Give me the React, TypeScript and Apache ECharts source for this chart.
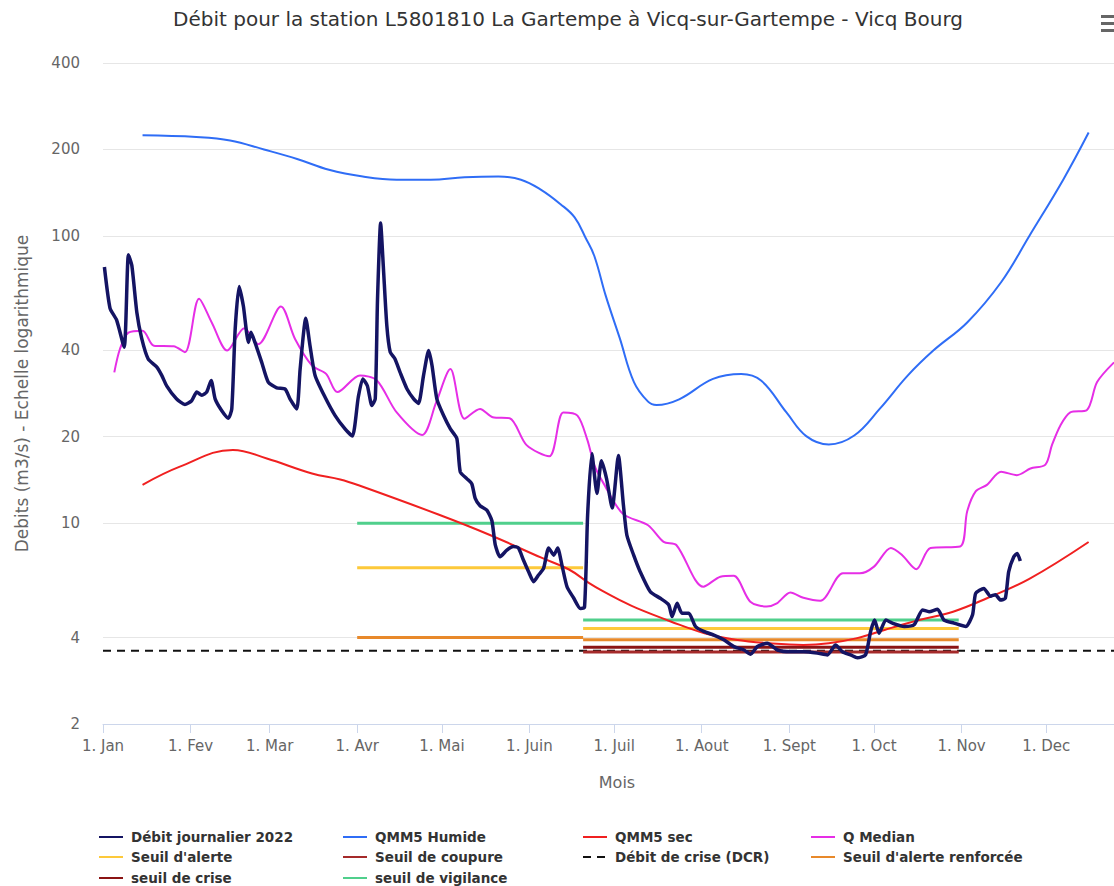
import React, { useEffect, useRef } from "react";
import * as echarts from "echarts";

// ---- axes ----
const monthDays = [0, 31, 59, 90, 120, 151, 181, 212, 243, 273, 304, 334];
const monthLabels = ["1. Jan", "1. Fev", "1. Mar", "1. Avr", "1. Mai", "1. Juin", "1. Juil", "1. Aout", "1. Sept", "1. Oct", "1. Nov", "1. Dec"];
const yTicks = [2, 4, 10, 20, 40, 100, 200, 400];

// ---- series (x = day of year 2022, 0 = 1 Jan) ----
const debitJournalier2022: [number, number][] = [
  [0.5, 78], [2.5, 56], [4.8, 51], [7.5, 41], [9, 86], [10.2, 79], [12, 54], [13.7, 44], [16, 37.3], [19, 35],
  [20.8, 32.7], [22.6, 30], [26, 27.1], [29, 25.9], [31.4, 26.7], [33.2, 28.6], [35, 27.9], [36.7, 28.6], [38.3, 31.4], [39.7, 27.1],
  [42, 24.7], [44.4, 23.2], [45.6, 25], [46.8, 47.4], [48.2, 66.7], [49.7, 57], [51.5, 42.6], [52.4, 46.2], [53.8, 42.6], [56.2, 36.3],
  [58.5, 31], [61.5, 29.6], [64.5, 29.3], [66.2, 27.1], [68.6, 25], [69.8, 34.4], [71.8, 51.7], [73.3, 41.5], [75.1, 32.7], [78.6, 27.5],
  [82.2, 23.7], [85.7, 21.3], [88.3, 20.1], [90.4, 27.5], [92, 31.8], [93.6, 30.1], [95.2, 25.7], [96.4, 27.1], [97.2, 60], [98.3, 111],
  [99.3, 77], [100.5, 48.7], [101.7, 39.4], [103.4, 37.3], [105.2, 33.5], [107.6, 29.4], [110, 27.1], [111.7, 26.1], [113.5, 32.7], [115.3, 39.9],
  [116.5, 35.4], [118.2, 27.1], [120.6, 23.7], [123, 21.3], [125.3, 19.7], [126.5, 15.1], [128.8, 14.3], [130.6, 13.7], [131.8, 12.2], [133.5, 11.5],
  [135.9, 11.1], [137.7, 10.2], [138.9, 8.4], [140.6, 7.64], [143, 8.06], [145.3, 8.3], [147.1, 8.2], [148.9, 7.43], [150.7, 6.78], [152.5, 6.26],
  [154.2, 6.6], [156, 6.96], [157.8, 8.2], [159.6, 7.74], [161, 8.2], [162.5, 7.15], [164.3, 6.01], [166.7, 5.48], [169, 5.05], [170.5, 5.1],
  [171.6, 10.7], [173.1, 17.5], [174.9, 12.7], [176.5, 16.5], [178.3, 14.3], [180.3, 11.3], [182.5, 17.2], [184.3, 11.5], [185.5, 9.08], [187.9, 7.74],
  [190.2, 6.78], [193.8, 5.77], [197.3, 5.48], [200.3, 5.2], [201.5, 4.73], [203.3, 5.26], [205, 4.86], [207.4, 4.86], [209.8, 4.37], [212.7, 4.2],
  [216.3, 4.08], [219.8, 3.93], [223.4, 3.72], [227, 3.62], [229.3, 3.5], [231.7, 3.72], [235.2, 3.82], [238.8, 3.62], [243.5, 3.57], [248.2, 3.57],
  [252.9, 3.53], [256.5, 3.48], [259.4, 3.77], [261.8, 3.57], [264.7, 3.48], [267.1, 3.4], [270, 3.48], [271.8, 4.2], [273.2, 4.6], [274.8, 4.14],
  [277.2, 4.6], [279.5, 4.49], [283.7, 4.37], [287.2, 4.43], [290.2, 4.99], [292.5, 4.92], [295.5, 5.02], [297.8, 4.6], [301.3, 4.49], [305.5, 4.37],
  [307.9, 4.8], [309, 5.7], [311.9, 5.93], [314.2, 5.57], [316, 5.64], [317.8, 5.4], [319.5, 5.48], [320.7, 6.78], [322.5, 7.64], [323.7, 7.85],
  [324.8, 7.38],
];

const qmm5Humide: [number, number][] = [
  [14, 224], [33, 221], [45, 215], [57, 200], [69, 185], [80, 170], [92, 161], [104, 157], [116, 157], [128, 160],
  [140, 161], [148, 157], [155, 145], [162, 129], [167, 116], [171, 98], [174, 85], [178, 62], [183, 44], [188, 31],
  [193, 26.5], [196, 25.8], [204, 27], [216, 31.8], [226, 33.1], [233, 31.4], [242, 24.3], [249, 20.1], [257, 18.8], [266, 20.2],
  [275, 25], [285, 32.7], [294, 39.9], [306, 50], [318, 69], [328, 100], [340, 157], [349, 229],
];

const qmm5Sec: [number, number][] = [
  [14, 13.6], [27, 15.7], [46, 18], [58, 16.8], [74, 14.9], [84, 14.2], [91, 13.5], [119, 10.7], [137, 9.1], [155, 7.6],
  [165, 6.9], [172, 6.2], [177, 5.8], [183, 5.4], [189, 5.06], [201, 4.55], [213, 4.14], [224, 3.93], [236, 3.82], [248, 3.77],
  [257, 3.82], [267, 3.98], [277, 4.26], [289, 4.6], [301, 4.92], [313, 5.48], [328, 6.4], [349, 8.6],
];

const qMedian: [number, number][] = [
  [4, 33.5], [6, 40.4], [9, 46.1], [14, 46.8], [18, 41.5], [25, 41.3], [29, 39.4], [34, 60.5], [38.5, 50], [44, 39.9],
  [50, 47.7], [55, 42], [63, 56.8], [68, 43.8], [74, 35.4], [79, 33.1], [83, 28.6], [91, 32.7], [97, 31.4], [104, 24.3],
  [113, 20.3], [118, 26.4], [123, 34.4], [128, 23.1], [133.5, 25], [138, 23.4], [144, 23.2], [150, 18.7], [158, 17.1], [163, 24.3],
  [168, 23.7], [171.5, 19.5], [174, 15.9], [177, 13.9], [184, 10.8], [193, 9.84], [198.5, 8.61], [203, 8.4], [212.6, 6.01], [218.6, 6.51],
  [223.3, 6.56], [229.2, 5.33], [235, 5.13], [238.6, 5.26], [243.4, 5.74], [248, 5.5], [254, 5.37], [262, 6.69], [268, 6.69], [273, 7.06],
  [279, 8.2], [283, 7.74], [288, 6.92], [293, 8.2], [303.5, 8.3], [306, 11], [309, 12.9], [313, 13.6], [318, 15.1], [323.6, 14.7],
  [328.4, 15.5], [333.7, 16], [336, 18.7], [339, 21.9], [342.5, 24.3], [348.4, 24.8], [352, 31], [358, 36.3],
];

// thresholds: period 1 (1 Apr - 20 Jun), period 2 (20 Jun - 31 Oct); '-' breaks the line
const seuilVigilance: any[] = [[90, 10], [170, 10], [170, "-"], [170, 4.6], [303, 4.6]];
const seuilAlerte: any[] = [[90, 7], [170, 7], [170, "-"], [170, 4.3], [303, 4.3]];
const seuilAlerteRenforcee: any[] = [[90, 4], [170, 4], [170, "-"], [170, 3.93], [303, 3.93]];
const seuilCrise: any[] = [[170, 3.7], [303, 3.7]];
const seuilCoupure: any[] = [[170, 3.56], [303, 3.56]];
const debitCrise: any[] = [[0, 3.6], [364, 3.6]];

const FONT = "DejaVu Sans";

export default function App() {
  const ref = useRef<HTMLDivElement>(null);
  useEffect(() => {
    if (!ref.current) return;
    const chart = echarts.init(ref.current, undefined, { renderer: "svg" });

    const line = (name: string, data: any[], color: string, width: number, extra: any = {}) => ({
      name,
      type: "line",
      data,
      symbol: "none",
      showSymbol: false,
      connectNulls: false,
      lineStyle: { color, width, ...(extra.lineStyle || {}) },
      itemStyle: { color },
      emphasis: { disabled: true },
      z: extra.z ?? 2,
      smooth: extra.smooth ?? false,
      clip: true,
    });

    const legendPos: [string, number, number][] = [
      ["Débit journalier 2022", 98, 830],
      ["QMM5 Humide", 342, 830],
      ["QMM5 sec", 582, 830],
      ["Q Median", 810, 830],
      ["Seuil d'alerte", 98, 850],
      ["Seuil de coupure", 342, 850],
      ["Débit de crise (DCR)", 582, 850],
      ["Seuil d'alerte renforcée", 810, 850],
      ["seuil de crise", 98, 871],
      ["seuil de vigilance", 342, 871],
    ];

    chart.setOption({
      animation: false,
      backgroundColor: "#ffffff",
      title: {
        text: "Débit pour la station L5801810 La Gartempe à Vicq-sur-Gartempe - Vicq Bourg",
        left: "center",
        top: 9,
        padding: 0,
        textStyle: { color: "#333333", fontSize: 20, fontWeight: "normal", fontFamily: FONT },
      },
      legend: legendPos.map(([name, left, top]) => ({
        data: [name],
        left,
        top,
        padding: 0,
        itemWidth: 24,
        itemHeight: 14,
        selectedMode: false,
        itemStyle: { opacity: 0 },
        textStyle: { color: "#333333", fontSize: 13.5, fontWeight: "bold", fontFamily: FONT, padding: [0, 0, 0, 3] },
      })),
      grid: { left: 103, right: 5, top: 63, bottom: 162, containLabel: false },
      xAxis: {
        type: "value",
        min: 0,
        max: 364,
        axisLine: { show: true, onZero: false, lineStyle: { color: "#ccd6eb", width: 1 } },
        axisTick: { show: true, customValues: monthDays, length: 9, lineStyle: { color: "#ccd6eb" } },
        axisLabel: {
          customValues: monthDays,
          formatter: (v: number) => {
            const i = monthDays.indexOf(Math.round(v));
            return i >= 0 ? monthLabels[i] : "";
          },
          color: "#666666",
          fontSize: 15,
          margin: 14,
          fontFamily: FONT,
        },
        splitLine: { show: false },
        name: "Mois",
        nameLocation: "middle",
        nameGap: 50,
        nameTextStyle: { color: "#666666", fontSize: 16, fontFamily: FONT },
      },
      yAxis: {
        type: "log",
        logBase: 10,
        min: 2,
        max: 400,
        axisLine: { show: false },
        axisTick: { show: false, customValues: yTicks },
        axisLabel: {
          customValues: yTicks,
          formatter: (v: number) => String(Math.round(v)),
          color: "#666666",
          fontSize: 15,
          margin: 23,
          fontFamily: FONT,
        },
        splitLine: { show: true, lineStyle: { color: "#e6e6e6", width: 1 } },
        name: "Debits (m3/s) - Echelle logarithmique",
        nameLocation: "middle",
        nameGap: 73,
        nameTextStyle: { color: "#666666", fontSize: 17, fontFamily: FONT },
      },
      graphic: [
        { type: "rect", left: 1101, top: 15, shape: { width: 15, height: 3 }, style: { fill: "#666666" } },
        { type: "rect", left: 1101, top: 22, shape: { width: 15, height: 3 }, style: { fill: "#666666" } },
        { type: "rect", left: 1101, top: 29, shape: { width: 15, height: 3 }, style: { fill: "#666666" } },
      ],
      series: [
        line("Débit de crise (DCR)", debitCrise, "#111111", 2, { lineStyle: { type: [8, 6] }, z: 2 }),
        line("Seuil de coupure", seuilCoupure, "#a52a2a", 3, { z: 3 }),
        line("seuil de crise", seuilCrise, "#8b1414", 3, { z: 3 }),
        line("Seuil d'alerte renforcée", seuilAlerteRenforcee, "#e8892a", 3, { z: 3 }),
        line("Seuil d'alerte", seuilAlerte, "#fdc93a", 3, { z: 3 }),
        line("seuil de vigilance", seuilVigilance, "#50cf8c", 3, { z: 3 }),
        line("QMM5 Humide", qmm5Humide, "#2f6df6", 2, { smooth: 0.4, z: 4 }),
        line("QMM5 sec", qmm5Sec, "#f02020", 2, { smooth: 0.4, z: 4 }),
        line("Q Median", qMedian, "#e62ee6", 2, { smooth: 0.3, z: 4 }),
        line("Débit journalier 2022", debitJournalier2022, "#141463", 3.5, { smooth: 0.2, z: 5 }),
      ],
    });
    return () => chart.dispose();
  }, []);

  return (
    <div style={{ position: "fixed", left: 0, top: 0, width: 1114, height: 886, overflow: "hidden", background: "#fff" }}>
      <div ref={ref} style={{ width: 1136, height: 886 }} />
    </div>
  );
}
